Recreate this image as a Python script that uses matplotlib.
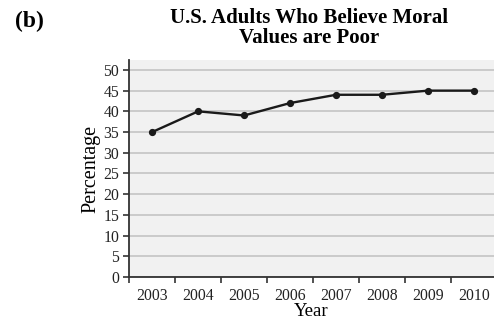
import matplotlib
matplotlib.use("Agg")
import matplotlib.pyplot as plt

years = ["2003", "2004", "2005", "2006", "2007", "2008", "2009", "2010"]
percent = [35, 40, 39, 42, 44, 44, 45, 45]
yticks = [0, 5, 10, 15, 20, 25, 30, 35, 40, 45, 50]

plt.rcParams['font.family'] = ['Liberation Serif', 'DejaVu Serif']

fig = plt.figure(figsize=(4.94, 3.22), dpi=100)
ax = fig.add_axes([0.2615, 0.1398, 0.7445, 0.6739])
ax.set_facecolor('#f1f1f1')

x = list(range(len(years)))
ax.plot(x, percent, color='#1a1a1a', lw=1.7, marker='o', ms=4.2, zorder=3)

ax.set_xlim(-0.5, len(years) - 0.5)
ax.set_ylim(0, 52.4)
ax.set_yticks(yticks)
ax.set_yticklabels([str(v) for v in yticks], fontsize=11.3, color='#222222')
ax.set_xticks([i + 0.5 for i in range(-1, len(years))])
ax.set_xticklabels([])
ax.set_xticks(x, minor=True)
ax.set_xticklabels(years, minor=True, fontsize=11.3, color='#222222')
ax.tick_params(axis='x', which='minor', length=0, pad=8)
ax.tick_params(axis='x', which='major', length=4, width=1.2, direction='out', color='#333333')
ax.tick_params(axis='y', length=4.3, width=1.2, direction='out', color='#333333', pad=3)

ax.grid(axis='y', color='#c4c4c4', lw=1.2)
ax.set_axisbelow(True)
for s in ['top', 'right']:
    ax.spines[s].set_visible(False)
for s in ['left', 'bottom']:
    ax.spines[s].set_color('#333333')
    ax.spines[s].set_linewidth(1.3)

ax.set_ylabel('Percentage', fontsize=14.5, labelpad=2)
fig.text(311 / 494, 1 - 316.5 / 322, 'Year', ha='center', va='baseline', fontsize=13.5)

fig.text(309 / 494, 1 - 22.7 / 322, 'U.S. Adults Who Believe Moral', ha='center', va='baseline',
         fontsize=15, fontweight='bold')
fig.text(309 / 494, 1 - 43.3 / 322, 'Values are Poor', ha='center', va='baseline',
         fontsize=15, fontweight='bold')
fig.text(15 / 494, 1 - 27 / 322, '(b)', ha='left', va='baseline', fontsize=17, fontweight='bold')

fig.savefig('out.png', dpi=100)
